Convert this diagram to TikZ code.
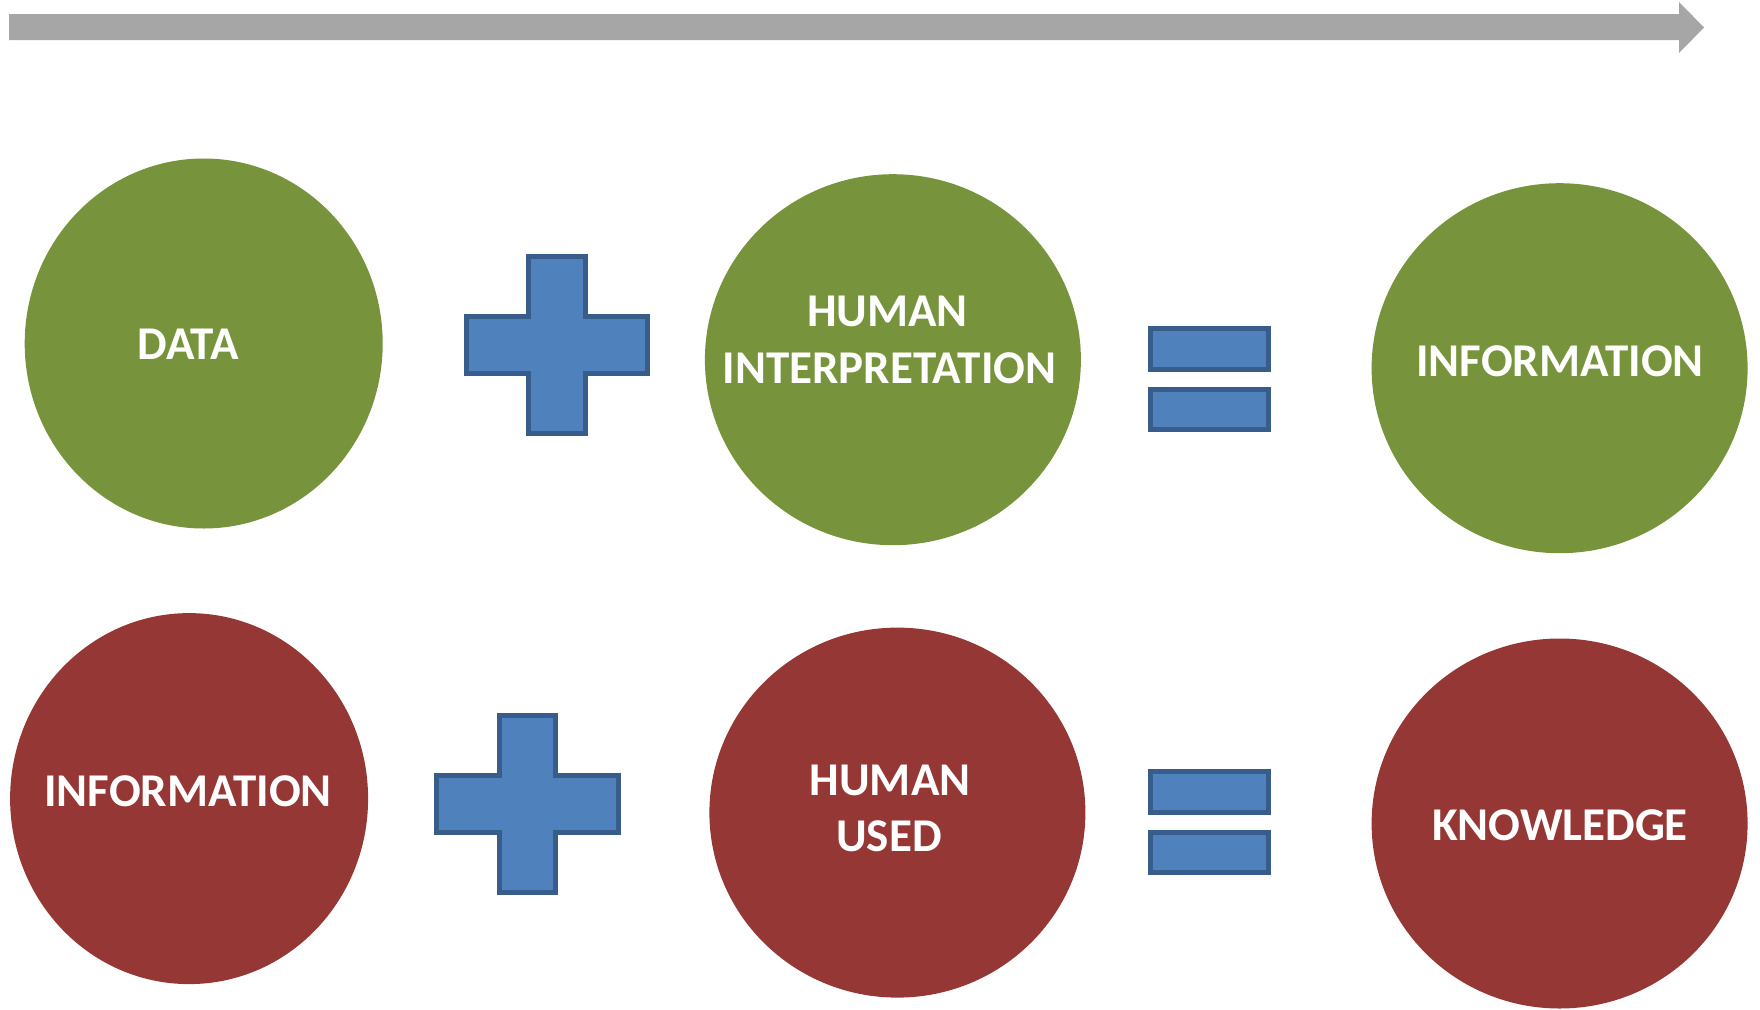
\documentclass[tikz,border=0pt]{standalone}
\usepackage{fontspec}
\setmainfont{Carlito}
\usetikzlibrary{shapes.geometric}
\definecolor{dgreen}{HTML}{77933C}
\definecolor{dred}{HTML}{953735}
\definecolor{bfill}{HTML}{4F81BD}
\definecolor{bline}{HTML}{385D8A}
\definecolor{agray}{HTML}{A6A6A6}
\tikzset{
  bubble/.style={ellipse, inner sep=0pt, draw=none},
  gbub/.style={bubble, fill=dgreen},
  rbub/.style={bubble, fill=dred},
  lbl/.style={anchor=base, inner sep=0pt, text=white, font=\fontsize{47}{56}\selectfont\bfseries},
  sym/.style={fill=bfill, draw=bline, line width=5pt, line join=miter},
}
\begin{document}
\begin{tikzpicture}[x=1pt,y=-1pt]
\useasboundingbox (0,0) rectangle (1760,1009);
% top arrow
\fill[agray] (9,14) -- (1679,14) -- (1679,2) -- (1704,27.5) -- (1679,53) -- (1679,40) -- (9,40) -- cycle;
% top row
\node[gbub, minimum width=358pt, minimum height=370pt] (data) at (203.7,343.5) {};
\node[gbub, minimum width=376pt, minimum height=371pt] (hint) at (892.9,359.7) {};
\node[gbub, minimum width=376pt, minimum height=370pt] (info1) at (1559.6,368.2) {};
% bottom row
\node[rbub, minimum width=358pt, minimum height=371pt] (info2) at (189.1,798.6) {};
\node[rbub, minimum width=376pt, minimum height=370pt] (hused) at (897.4,812.6) {};
\node[rbub, minimum width=376pt, minimum height=370pt] (know) at (1559.6,823.5) {};
% labels
\node[lbl] (tdata) at (188.3,359) {DATA};
\node[lbl] (thum1) at (887.5,326) {HUMAN};
\node[lbl] (tint) at (889.5,383) {INTERPRETATION};
\node[lbl] (tinfo1) at (1560,376.5) {INFORMATION};
\node[lbl] (tinfo2) at (188,806) {INFORMATION};
\node[lbl] (thum2) at (890,795) {HUMAN};
\node[lbl] (tused) at (889,851.5) {USED};
\node[lbl] (tknow) at (1560,840.5) {KNOWLEDGE};
% plus signs
\draw[sym] (528.5,256.5) -- (585,256.5) -- (585,316.5) -- (647.5,316.5) -- (647.5,373.5) -- (585,373.5) -- (585,433) -- (528.5,433) -- (528.5,373.5) -- (466,373.5) -- (466,316.5) -- (528.5,316.5) -- cycle;
\begin{scope}[shift={(-29.2,459)}]
\draw[sym] (528.5,256.5) -- (585,256.5) -- (585,316.5) -- (647.5,316.5) -- (647.5,373.5) -- (585,373.5) -- (585,433) -- (528.5,433) -- (528.5,373.5) -- (466,373.5) -- (466,316.5) -- (528.5,316.5) -- cycle;
\end{scope}
% equals signs
\draw[sym] (1150,328.5) rectangle (1268,369);
\draw[sym] (1150,389) rectangle (1268,429.5);
\draw[sym] (1150,771.9) rectangle (1268,812.4);
\draw[sym] (1150,832.4) rectangle (1268,872.9);
\end{tikzpicture}
\end{document}
